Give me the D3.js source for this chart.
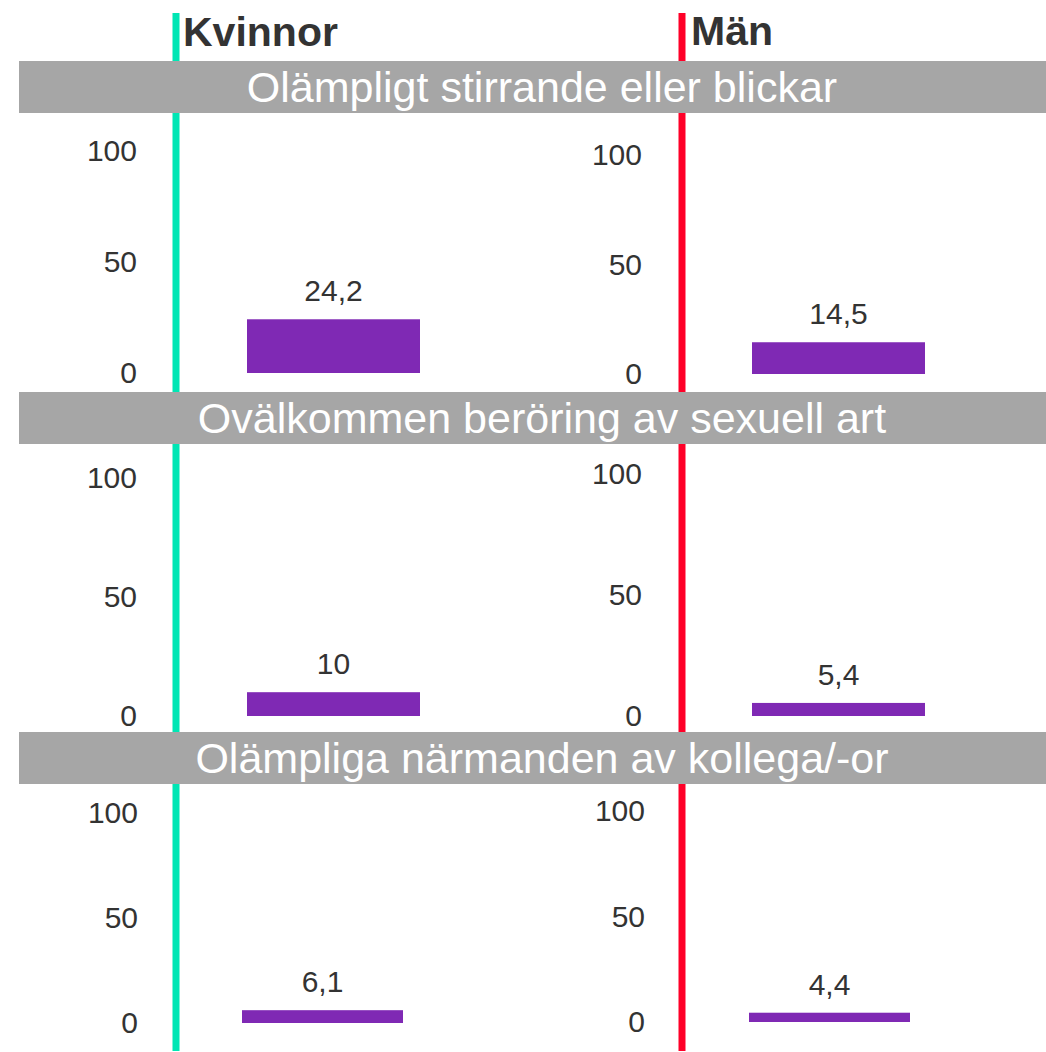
<!DOCTYPE html>
<html><head><meta charset="utf-8">
<script src="https://cdn.jsdelivr.net/npm/d3@7"></script>
<style>
html,body{margin:0;padding:0;background:#fff;}
text{font-family:"Liberation Sans",Arial,sans-serif;}
</style></head>
<body><svg id="c" width="1046" height="1052"></svg>
<script>
// ---- data ----
const groups = ["Kvinnor", "Män"];
const categories = ["Olämpligt stirrande eller blickar", "Ovälkommen beröring av sexuell art", "Olämpliga närmanden av kollega/-or"];
const womenValues = [24.2, 10, 6.1];
const menValues = [14.5, 5.4, 4.4];
const valueLabels = [["24,2", "14,5"], ["10", "5,4"], ["6,1", "4,4"]];
const tickValues = [0, 50, 100];

// ---- layout ----
const W = 1046, H = 1052;
const svg = d3.select("#c");
const groupColors = ["#00e6b4", "#ff0028"];
const lineX = [176, 682];
const headerX = [183, 691];
const headerY = [46, 45];
const bandTop = [61, 392, 732], bandH = 52, bandX = 19;
// per row, per column: [y0, y100, barX0, barX1, tickX]
const panels = [
  [[373, 151, 247, 420, 137], [374, 155, 752, 925, 642]],
  [[716, 478, 247, 420, 137], [716, 474, 752, 925, 642]],
  [[1023, 813, 242, 403, 138], [1022, 811, 749, 910, 645]]
];
const textCol = "#333333";

// vertical group lines (behind bands)
groups.forEach((g, i) => {
  svg.append("line").attr("x1", lineX[i]).attr("x2", lineX[i])
    .attr("y1", 13).attr("y2", 1051)
    .attr("stroke", groupColors[i]).attr("stroke-width", 7);
  svg.append("text").attr("x", headerX[i]).attr("y", headerY[i])
    .attr("font-size", 41).attr("font-weight", "bold").attr("fill", textCol)
    .text(g);
});

categories.forEach((cat, r) => {
  svg.append("rect").attr("x", bandX).attr("y", bandTop[r])
    .attr("width", W - bandX).attr("height", bandH).attr("fill", "#a6a6a6");
  svg.append("text").attr("x", 542).attr("y", bandTop[r] + 41)
    .attr("text-anchor", "middle").attr("font-size", 43).attr("fill", "#fff")
    .text(cat);

  [womenValues, menValues].forEach((vals, c) => {
    const p = panels[r][c];
    const y = d3.scaleLinear().domain([0, 100]).range([p[0], p[1]]);
    const x = d3.scaleBand().domain([groups[c]]).range([p[2], p[3]]).padding(0);
    const g = svg.append("g");
    const axis = d3.axisLeft(y).tickValues(tickValues).tickSize(0).tickPadding(0)
      .tickFormat(d3.format("d"));
    const ag = g.append("g").attr("transform", `translate(${p[4]},0)`).call(axis);
    ag.select(".domain").remove();
    ag.selectAll("text").attr("font-size", 30).attr("fill", textCol)
      .attr("font-family", "'Liberation Sans', Arial, sans-serif");
    const v = vals[r];
    g.append("rect").attr("x", x(groups[c])).attr("width", x.bandwidth())
      .attr("y", y(v)).attr("height", y(0) - y(v)).attr("fill", "#7f29b4");
    g.append("text").attr("x", x(groups[c]) + x.bandwidth() / 2).attr("y", y(v) - 18)
      .attr("text-anchor", "middle").attr("font-size", 30).attr("fill", textCol)
      .text(valueLabels[r][c]);
  });
});
</script></body></html>
